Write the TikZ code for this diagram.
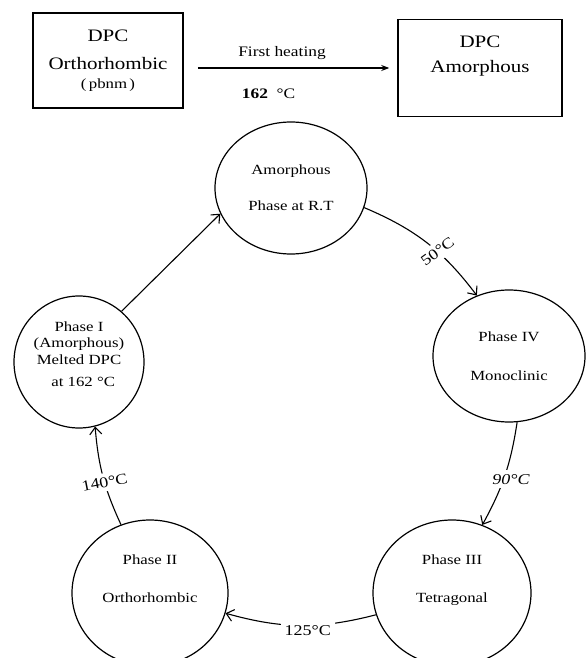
\documentclass[tikz,border=0pt]{standalone}
\usepackage{fontspec}
\setmainfont{Liberation Serif}[FakeStretch=1.2]
\usetikzlibrary{arrows.meta,positioning,shapes.geometric}

\begin{document}
\begin{tikzpicture}[
   x=1pt,y=-1pt,
   box/.style={draw,line width=1.5pt,align=center,inner sep=0pt,
               font=\fontsize{17.5}{27}\selectfont},
   phase/.style={ellipse,draw,line width=1.2pt,align=center,inner sep=0pt,
                 font=\fontsize{14}{17}\selectfont},
   temp/.style={fill=white,inner sep=4pt,font=\fontsize{15}{18}\selectfont},
   >={Straight Barb[length=7pt,width=12pt]}]
  \useasboundingbox (0,0) rectangle (586,658);
  \node[box,minimum width=150pt,minimum height=95pt] (dpcorth) at (108,60.5)
     {DPC\\[1pt]Orthorhombic\\[-8pt]{\fontsize{14}{17}\selectfont(\,pbnm\,)}};
  \node[box,minimum width=164pt,minimum height=97pt] (dpcamor) at (480,68)
     {DPC\\[-2pt]Amorphous\\[0pt]\mbox{}};
  \draw[line width=1.2pt,-{Stealth[length=8pt,width=6pt]}]
     ([xshift=14pt,yshift=-7.5pt]dpcorth.east) --
     node[pos=.44,above=4pt,font=\fontsize{14.5}{17}\selectfont] (heatlbl) {First heating}
     node[pos=.37,below=17pt,font=\fontsize{14.5}{17}\selectfont] (heattemp) {\textbf{162}\ \ °C}
     ([xshift=-8pt]dpcamor.west);
  % phase cycle
  \node[phase,minimum width=152pt,minimum height=132pt] (amor) at (291,188)
     {Amorphous\\[19pt]Phase at R.T};
  \node[phase,minimum width=152pt,minimum height=132pt] (ph4) at (509,356)
     {Phase IV\\[22pt]Monoclinic};
  \node[phase,minimum width=158pt,minimum height=146pt] (ph3) at (452,593)
     {Phase III\\[21pt]Tetragonal\\[11pt]\mbox{}};
  \node[phase,minimum width=156pt,minimum height=146pt] (ph2) at (150,593)
     {Phase II\\[21pt]Orthorhombic\\[11pt]\mbox{}};
  \node[phase,minimum width=130pt,minimum height=132pt] (ph1) at (79,362)
     {Phase I\\[-1pt](Amorphous)\\Melted DPC\\[5pt]\ \ at 162 °C\\[-2pt]\mbox{}};
  \draw[line width=1.1pt,->] (ph1.50) -- (amor.200);
  \draw[line width=1.1pt,->] (amor.-15) to[bend left=15]
     node[temp,rotate=36,pos=.6] (t50) {50°C} (ph4.118);
  \draw[line width=1.1pt,->] (ph4.-83) to[bend left=10]
     node[temp,xshift=6pt,yshift=-4pt,font=\fontsize{15}{18}\selectfont\itshape] (t90) {90°C} (ph3.66);
  \draw[line width=1.1pt,->] (ph3.196) to[bend left=15]
     node[temp,pos=.45,yshift=-5pt] (t125) {125°C} (ph2.-15);
  \draw[line width=1.1pt,->] (ph2.113) to[bend left=10]
     node[temp,rotate=11,pos=.44] (t140) {140°C} (ph1.-76);
\end{tikzpicture}
\end{document}
